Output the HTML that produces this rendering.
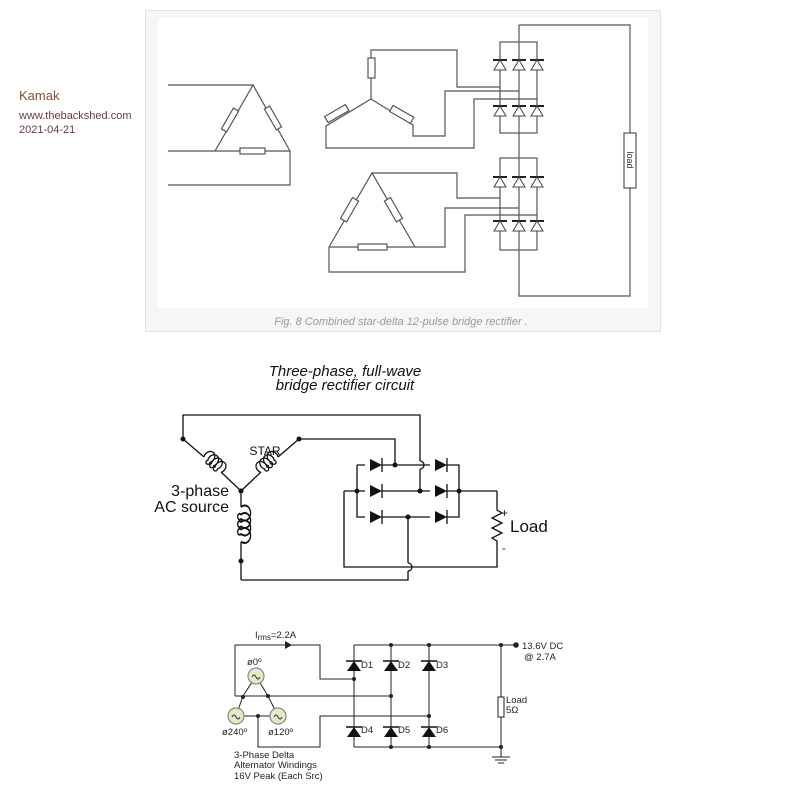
<!DOCTYPE html>
<html><head><meta charset="utf-8"><style>
html,body{margin:0;padding:0;background:#fff;width:800px;height:800px;overflow:hidden}
svg{display:block}
</style></head><body>
<svg width="800" height="800" viewBox="0 0 800 800" xmlns="http://www.w3.org/2000/svg" font-family="Liberation Sans, sans-serif">
<defs>
<g id="du1"><line x1="-7" y1="0" x2="7" y2="0" stroke="#222" stroke-width="2"/><path d="M-6,10 L6,10 L0,0 Z" fill="#fff" stroke="#444" stroke-width="1"/></g>
<g id="dr"><path d="M-6,-6 L-6,6 L6,0 Z" fill="#111"/><line x1="6" y1="-7" x2="6" y2="7" stroke="#111" stroke-width="1.3"/></g>
<g id="du3"><path d="M-7,10 L7,10 L0,0 Z" fill="#111"/><line x1="-8" y1="0" x2="8" y2="0" stroke="#111" stroke-width="1.5"/></g>
<path id="coil" d="M0,0 a5,6 0 1,1 8,0 a2,2 0 1,1 -3,0 a5,6 0 1,1 8,0 a2,2 0 1,1 -3,0 a5,6 0 1,1 8,0 a2,2 0 1,1 -3,0 a5,6 0 1,1 8,0" fill="none" stroke="#111" stroke-width="1.3"/>
</defs>
<text x="19" y="100" font-size="13" fill="#8a4a3a">Kamak</text>
<text x="19" y="119" font-size="11" fill="#6a3d3d">www.thebackshed.com</text>
<text x="19" y="133" font-size="11" fill="#6a3d3d">2021-04-21</text>

<rect x="145.5" y="10.5" width="515" height="321" fill="#f6f6f6" stroke="#e2e2e2"/>
<rect x="158" y="18" width="490" height="290" fill="#fff"/>
<text x="401" y="325" font-size="11" font-style="italic" fill="#999" text-anchor="middle">Fig. 8 Combined star-delta 12-pulse bridge rectifier .</text>
<g stroke="#555" stroke-width="1.2" fill="none">
<polyline points="168,85 253,85 215,151"/>
<line x1="253" y1="85" x2="290" y2="151"/>
<polyline points="168,151 290,151 290,185 168,185"/>
<rect x="227" y="108" width="6" height="24" transform="rotate(30 230 120)" fill="#fff"/>
<rect x="270" y="106" width="6" height="24" transform="rotate(-30 273 118)" fill="#fff"/>
<rect x="240" y="148" width="25" height="6" fill="#fff"/>
<polyline points="371,99 371,50 457,50 457,87 500,87"/>
<polyline points="371,99 326,126 326,148 474,148 474,99 537,99"/>
<polyline points="371,99 413,125 413,136 445,136 445,91 519,91"/>
<rect x="368" y="58" width="7" height="20" fill="#fff"/>
<rect x="333" y="102" width="7" height="24" transform="rotate(60 337 114)" fill="#fff"/>
<rect x="398" y="102" width="7" height="24" transform="rotate(-60 402 114)" fill="#fff"/>
<rect x="500" y="42" width="37" height="91"/>
<rect x="500" y="158" width="37" height="92"/>
<polyline points="519,25 630,25 630,296 519,296 519,25"/>
<rect x="624" y="133" width="12" height="55" fill="#fff"/>
<polyline points="329,247 372,173 415,247"/>
<polyline points="372,173 457,173 457,198 500,198"/>
<polyline points="329,247 445,247 445,208 519,208"/>
<polyline points="329,247 329,272 465,272 465,215 537,215"/>
<rect x="346" y="198" width="7" height="24" transform="rotate(30 350 210)" fill="#fff"/>
<rect x="390" y="198" width="7" height="24" transform="rotate(-30 393 210)" fill="#fff"/>
<rect x="358" y="244" width="29" height="6" fill="#fff"/>
</g>
<text x="0" y="0" font-size="9" fill="#333" transform="translate(627,160) rotate(90)" text-anchor="middle">load</text>
<g>
<use href="#du1" x="500" y="60"/><use href="#du1" x="519" y="60"/><use href="#du1" x="537" y="60"/>
<use href="#du1" x="500" y="106"/><use href="#du1" x="519" y="106"/><use href="#du1" x="537" y="106"/>
<use href="#du1" x="500" y="177"/><use href="#du1" x="519" y="177"/><use href="#du1" x="537" y="177"/>
<use href="#du1" x="500" y="221"/><use href="#du1" x="519" y="221"/><use href="#du1" x="537" y="221"/>
</g>

<text x="345" y="376" font-size="15" font-style="italic" fill="#111" text-anchor="middle">Three-phase, full-wave</text>
<text x="345" y="390" font-size="15" font-style="italic" fill="#111" text-anchor="middle">bridge rectifier circuit</text>
<g stroke="#111" stroke-width="1.3" fill="none">
<polyline points="183,439 183,415 420,415 420,461"/>
<path d="M420,461 a4,4 0 0,1 0,8"/>
<line x1="420" y1="469" x2="420" y2="491"/>
<polyline points="299,439 395,439 395,465"/>
<line x1="183" y1="439" x2="204" y2="457"/><line x1="221" y1="472" x2="241" y2="491"/>
<line x1="299" y1="439" x2="278" y2="457"/><line x1="261" y1="472" x2="241" y2="491"/>
<line x1="241" y1="491" x2="241" y2="507"/><line x1="241" y1="542" x2="241" y2="580"/>
<polyline points="241,580 408,580 408,571"/>
<path d="M408,571 a4,4 0 0,0 0,-8"/>
<line x1="408" y1="563" x2="408" y2="517"/>
<polyline points="357,465 459,465 459,517 357,517 357,465"/>
<line x1="344" y1="491" x2="497" y2="491"/>
<polyline points="344,491 344,567 497,567 497,545"/>
<polyline points="497,491 497,510 502,513 492,518 502,523 492,528 502,533 492,538 497,541 497,545"/>
</g>
<use href="#coil" transform="translate(204,457) rotate(42)"/>
<use href="#coil" transform="translate(278,457) rotate(138) scale(1,-1)"/>
<use href="#coil" transform="translate(241,507) rotate(90) scale(1.5,1)"/>
<g fill="#111">
<circle cx="183" cy="439" r="2.5"/><circle cx="299" cy="439" r="2.5"/><circle cx="241" cy="491" r="2.5"/><circle cx="241" cy="561" r="2.5"/>
<circle cx="395" cy="465" r="2.5"/><circle cx="420" cy="491" r="2.5"/><circle cx="357" cy="491" r="2.5"/><circle cx="459" cy="491" r="2.5"/><circle cx="408" cy="517" r="2.5"/>
</g>
<rect x="365" y="459" width="17" height="12" fill="#fff"/><rect x="430" y="459" width="17" height="12" fill="#fff"/>
<rect x="365" y="485" width="17" height="12" fill="#fff"/><rect x="430" y="485" width="17" height="12" fill="#fff"/>
<rect x="365" y="511" width="17" height="12" fill="#fff"/><rect x="430" y="511" width="17" height="12" fill="#fff"/>
<use href="#dr" x="376" y="465"/><use href="#dr" x="441" y="465"/>
<use href="#dr" x="376" y="491"/><use href="#dr" x="441" y="491"/>
<use href="#dr" x="376" y="517"/><use href="#dr" x="441" y="517"/>
<text x="265" y="455" font-size="12" fill="#111" text-anchor="middle">STAR</text>
<text x="229" y="496" font-size="16" fill="#111" text-anchor="end">3-phase</text>
<text x="229" y="512" font-size="16" fill="#111" text-anchor="end">AC source</text>
<text x="501" y="517" font-size="12" fill="#111">+</text>
<text x="510" y="532" font-size="17" fill="#111">Load</text>
<text x="502" y="552" font-size="11" fill="#111">-</text>

<g stroke="#222" stroke-width="1" fill="none">
<polyline points="235,696 235,645 320,645 320,679 354,679"/>
<line x1="235" y1="696" x2="391" y2="696"/>
<polyline points="258,716 258,747 320,747 320,716 429,716"/>
<line x1="236" y1="716" x2="278" y2="716"/>
<line x1="256" y1="676" x2="243" y2="696"/><line x1="256" y1="676" x2="268" y2="696"/>
<line x1="243" y1="696" x2="236" y2="716"/><line x1="268" y1="696" x2="278" y2="716"/>
<line x1="354" y1="645" x2="515" y2="645"/>
<line x1="354" y1="747" x2="501" y2="747"/>
<line x1="354" y1="645" x2="354" y2="747"/>
<line x1="391" y1="645" x2="391" y2="747"/>
<line x1="429" y1="645" x2="429" y2="747"/>
<line x1="501" y1="645" x2="501" y2="757"/>
<line x1="492" y1="757" x2="510" y2="757"/><line x1="495" y1="760" x2="507" y2="760"/><line x1="498" y1="763" x2="504" y2="763"/>
<rect x="498" y="697" width="6" height="20" fill="#fff"/>
</g>
<path d="M285,641 L292,645 L285,649 Z" fill="#222"/>
<g fill="#e6e8c8" stroke="#888" stroke-width="1.2">
<circle cx="256" cy="676" r="8"/><circle cx="236" cy="716" r="8"/><circle cx="278" cy="716" r="8"/>
</g>
<g fill="none" stroke="#333" stroke-width="1"><path d="M252,677 q2,-4 4,0 q2,4 4,0"/><path d="M232,717 q2,-4 4,0 q2,4 4,0"/><path d="M274,717 q2,-4 4,0 q2,4 4,0"/></g>
<g fill="#222">
<circle cx="391" cy="645" r="2"/><circle cx="429" cy="645" r="2"/><circle cx="501" cy="645" r="2"/><circle cx="516" cy="645" r="2.8"/>
<circle cx="391" cy="747" r="2"/><circle cx="429" cy="747" r="2"/><circle cx="501" cy="747" r="2"/>
<circle cx="354" cy="679" r="2"/><circle cx="391" cy="696" r="2"/><circle cx="429" cy="716" r="2"/>
<circle cx="258" cy="716" r="2"/><circle cx="243" cy="697" r="2"/><circle cx="268" cy="696" r="2"/>
</g>
<use href="#du3" x="354" y="661"/><use href="#du3" x="391" y="661"/><use href="#du3" x="429" y="661"/>
<use href="#du3" x="354" y="727"/><use href="#du3" x="391" y="727"/><use href="#du3" x="429" y="727"/>
<g font-size="9.5" fill="#222">
<text x="361" y="668">D1</text><text x="398" y="668">D2</text><text x="436" y="668">D3</text>
<text x="361" y="733">D4</text><text x="398" y="733">D5</text><text x="436" y="733">D6</text>
<text x="255" y="638">I<tspan font-size="8" dy="2">rms</tspan><tspan dy="-2">=2.2A</tspan></text>
<text x="247" y="665">ø0º</text>
<text x="222" y="735">ø240º</text><text x="268" y="735">ø120º</text>
<text x="506" y="703">Load</text><text x="506" y="713">5Ω</text>
<text x="522" y="649">13.6V DC</text><text x="524" y="660">@ 2.7A</text>
<text x="234" y="758">3-Phase Delta</text>
<text x="234" y="768">Alternator Windings</text>
<text x="234" y="779">16V Peak (Each Src)</text>
</g>
</svg>
</body></html>
